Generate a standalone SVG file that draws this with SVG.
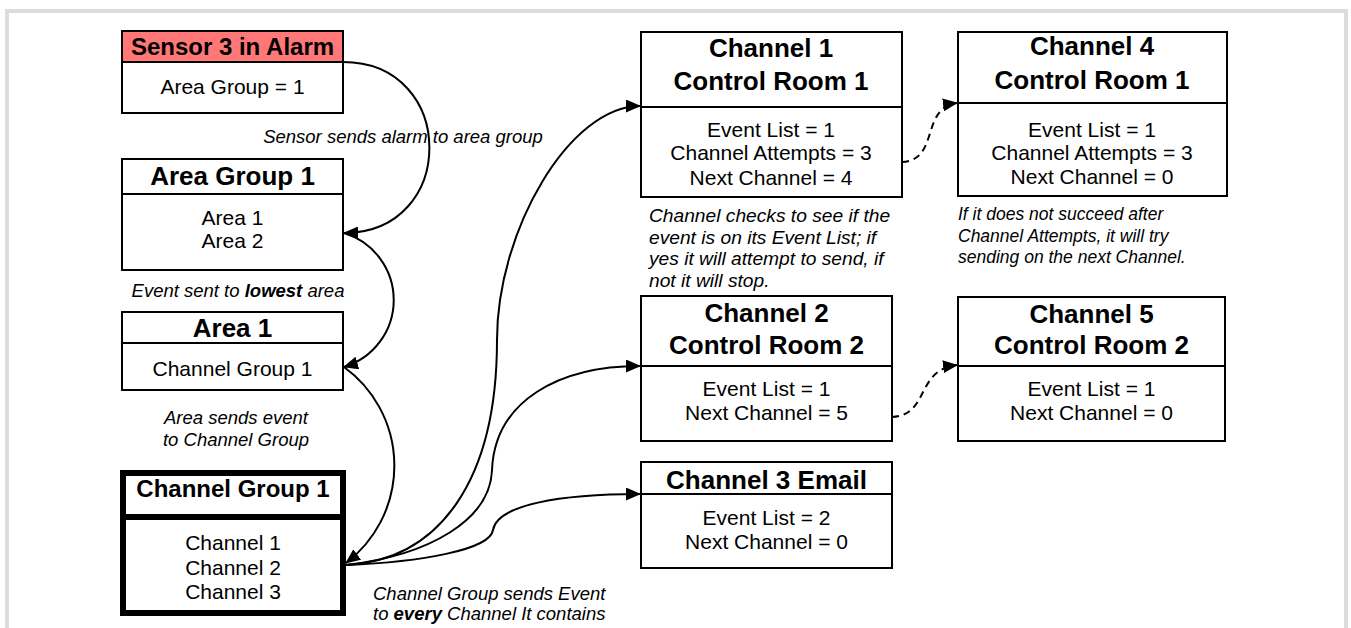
<svg xmlns="http://www.w3.org/2000/svg" width="1351" height="628" viewBox="0 0 1351 628">
<defs>
<marker id="ah" markerUnits="userSpaceOnUse" markerWidth="15" markerHeight="13" refX="14" refY="6.5" orient="auto">
<path d="M0,0 L15,6.5 L0,13 z" fill="#000"/>
</marker>
<style>
.box{fill:#fff;stroke:#000;stroke-width:2}
.thick{fill:#fff;stroke:#000;stroke-width:6}
.div{stroke:#000;stroke-width:2}
.hd{font-family:"Liberation Sans",Arial,sans-serif;font-weight:bold;text-anchor:middle;fill:#000}
.bd{font-family:"Liberation Sans",Arial,sans-serif;font-size:21px;text-anchor:middle;fill:#000}
.note{font-family:"Liberation Sans",Arial,sans-serif;font-style:italic;fill:#000}
.con{fill:none;stroke:#000;stroke-width:2;marker-end:url(#ah)}
.dash{fill:none;stroke:#000;stroke-width:2;stroke-dasharray:7 5;marker-end:url(#ah)}
</style>
</defs>
<rect x="0" y="0" width="1351" height="628" fill="#fff"/>
<rect x="7" y="11" width="1339" height="640" fill="none" stroke="#dcdcdc" stroke-width="4"/>

<g id="sensor3">
<rect class="box" x="122" y="31" width="221" height="82"/>
<rect x="122" y="31" width="221" height="31" fill="#ff7777" stroke="#000" stroke-width="2"/>
<text class="hd" x="232.5" y="55" font-size="24">Sensor 3 in Alarm</text>
<text class="bd" x="232.5" y="94">Area Group = 1</text>
</g>

<g id="areagroup1">
<rect class="box" x="122" y="159" width="221" height="111"/>
<line class="div" x1="122" y1="194" x2="343" y2="194"/>
<text class="hd" x="232.5" y="185" font-size="26">Area Group 1</text>
<text class="bd" x="232.5" y="225">Area 1</text>
<text class="bd" x="232.5" y="248">Area 2</text>
</g>

<g id="area1">
<rect class="box" x="122" y="312" width="221" height="78"/>
<line class="div" x1="122" y1="343" x2="343" y2="343"/>
<text class="hd" x="232.5" y="337" font-size="26">Area 1</text>
<text class="bd" x="232.5" y="376">Channel Group 1</text>
</g>

<g id="channelgroup1">
<rect class="thick" x="123" y="473" width="220" height="140"/>
<line x1="123" y1="517" x2="343" y2="517" stroke="#000" stroke-width="6"/>
<text class="hd" x="233" y="497" font-size="24">Channel Group 1</text>
<text class="bd" x="233" y="550">Channel 1</text>
<text class="bd" x="233" y="575">Channel 2</text>
<text class="bd" x="233" y="599">Channel 3</text>
</g>

<g id="channel1">
<rect class="box" x="641" y="32" width="261" height="165"/>
<line class="div" x1="641" y1="107" x2="902" y2="107"/>
<text class="hd" x="771" y="57" font-size="26">Channel 1</text>
<text class="hd" x="771" y="90" font-size="26">Control Room 1</text>
<text class="bd" x="771" y="137">Event List = 1</text>
<text class="bd" x="771" y="160">Channel Attempts = 3</text>
<text class="bd" x="771" y="185">Next Channel = 4</text>
</g>

<g id="channel4">
<rect class="box" x="958" y="32" width="269" height="164"/>
<line class="div" x1="958" y1="103" x2="1227" y2="103"/>
<text class="hd" x="1092" y="55" font-size="26">Channel 4</text>
<text class="hd" x="1092" y="88.5" font-size="26">Control Room 1</text>
<text class="bd" x="1092" y="137">Event List = 1</text>
<text class="bd" x="1092" y="159.5">Channel Attempts = 3</text>
<text class="bd" x="1092" y="183.5">Next Channel = 0</text>
</g>

<g id="channel2">
<rect class="box" x="641" y="296" width="251" height="145"/>
<line class="div" x1="641" y1="366" x2="892" y2="366"/>
<text class="hd" x="766.5" y="322" font-size="26">Channel 2</text>
<text class="hd" x="766.5" y="353.5" font-size="26">Control Room 2</text>
<text class="bd" x="766.5" y="396">Event List = 1</text>
<text class="bd" x="766.5" y="420">Next Channel = 5</text>
</g>

<g id="channel3">
<rect class="box" x="641" y="462" width="251" height="106"/>
<line class="div" x1="641" y1="494" x2="892" y2="494"/>
<text class="hd" x="766.5" y="488.5" font-size="26">Channel 3 Email</text>
<text class="bd" x="766.5" y="525">Event List = 2</text>
<text class="bd" x="766.5" y="548.5">Next Channel = 0</text>
</g>

<g id="channel5">
<rect class="box" x="958" y="297" width="267" height="144"/>
<line class="div" x1="958" y1="366" x2="1225" y2="366"/>
<text class="hd" x="1091.5" y="323" font-size="26">Channel 5</text>
<text class="hd" x="1091.5" y="353.5" font-size="26">Control Room 2</text>
<text class="bd" x="1091.5" y="396">Event List = 1</text>
<text class="bd" x="1091.5" y="420">Next Channel = 0</text>
</g>

<g id="notes">
<text class="note" x="403" y="143" font-size="18.5" text-anchor="middle">Sensor sends alarm to area group</text>
<text class="note" x="238" y="297" font-size="18.5" text-anchor="middle">Event sent to <tspan font-weight="bold">lowest</tspan> area</text>
<text class="note" x="236" y="424" font-size="18.5" text-anchor="middle">Area sends event</text>
<text class="note" x="236" y="446" font-size="18.5" text-anchor="middle">to Channel Group</text>
<text class="note" x="373" y="600" font-size="18.5">Channel Group sends Event</text>
<text class="note" x="373" y="620" font-size="18.5">to <tspan font-weight="bold">every</tspan> Channel It contains</text>
<text class="note" x="649" y="222" font-size="19.2">Channel checks to see if the</text>
<text class="note" x="649" y="243.5" font-size="19.2">event is on its Event List; if</text>
<text class="note" x="649" y="265" font-size="19.2">yes it will attempt to send, if</text>
<text class="note" x="649" y="286.5" font-size="19.2">not it will stop.</text>
<text class="note" x="958" y="220" font-size="17.5">If it does not succeed after</text>
<text class="note" x="958" y="241.5" font-size="17.5">Channel Attempts, it will try</text>
<text class="note" x="958" y="263" font-size="17.5">sending on the next Channel.</text>
</g>

<g id="connectors">
<path class="con" d="M343,62 C458,62 458,233 344,233"/>
<path class="con" d="M344,233 A70 70 0 0 1 344,367"/>
<path class="con" d="M344,367 A122 122 0 0 1 346,563"/>
<path class="con" d="M346,565 C440,560 497,480 497,340 C497,230 570,106 640,106"/>
<path class="con" d="M346,565 C430,555 490,520 492,470 C495,400 560,366 640,366"/>
<path class="con" d="M346,565 C420,562 490,550 493,530 C497,505 560,494 640,494"/>
<path class="dash" d="M902,162 C940,160 920,108 957,103"/>
<path class="dash" d="M892,417 C930,415 915,370 957,365"/>
</g>
</svg>
